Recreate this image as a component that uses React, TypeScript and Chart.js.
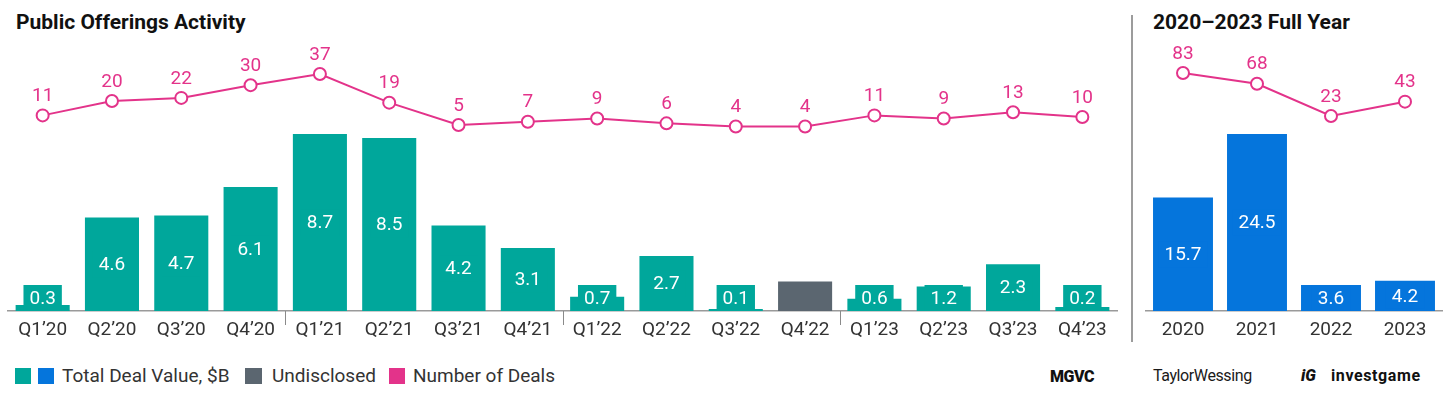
import React, { useEffect, useRef } from "react";
import { Chart, registerables } from "chart.js";
Chart.register(...registerables);

const quarters = ["Q1’20", "Q2’20", "Q3’20", "Q4’20", "Q1’21", "Q2’21", "Q3’21", "Q4’21", "Q1’22", "Q2’22", "Q3’22", "Q4’22", "Q1’23", "Q2’23", "Q3’23", "Q4’23"];
const dealValue = [0.3, 4.6, 4.7, 6.1, 8.7, 8.5, 4.2, 3.1, 0.7, 2.7, 0.1, null, 0.6, 1.2, 2.3, 0.2];
const undisclosed = [null, null, null, null, null, null, null, null, null, null, null, 1.45, null, null, null, null];
const dealCount = [11, 20, 22, 30, 37, 19, 5, 7, 9, 6, 4, 4, 11, 9, 13, 10];

const years = ["2020", "2021", "2022", "2023"];
const yearValue = [15.7, 24.5, 3.6, 4.2];
const yearCount = [83, 68, 23, 43];

const TEAL = "#00A79B";
const BLUE = "#0575DC";
const GRAY = "#5B6670";
const PINK = "#E3338A";
const FONT = "Roboto, 'Noto Sans', sans-serif";

const labelsPlugin = {
  id: "valueLabels",
  afterDatasetsDraw(chart: any) {
    const ctx = chart.ctx;
    ctx.save();
    chart.data.datasets.forEach((ds: any, di: number) => {
      const meta = chart.getDatasetMeta(di);
      if (meta.hidden) return;
      if (ds.type === "bar") {
        if (!ds.showLabels) return;
        ctx.font = `19px ${FONT}`;
        ctx.textAlign = "center";
        ctx.textBaseline = "middle";
        meta.data.forEach((el: any, i: number) => {
          const v = ds.data[i];
          if (v === null || v === undefined) return;
          const base = el.base;
          const mid = (el.y + base) / 2;
          const cy = Math.min(mid, base - 13);
          const txt = v.toFixed(1);
          const tw = ctx.measureText(txt).width;
          ctx.fillStyle = ds.backgroundColor;
          ctx.fillRect(el.x - tw / 2 - 6, cy - 13, tw + 12, 26);
          ctx.fillStyle = "#ffffff";
          ctx.fillText(txt, el.x, cy + 1);
        });
      } else if (ds.type === "line") {
        ctx.font = `19px ${FONT}`;
        ctx.textAlign = "center";
        ctx.textBaseline = "middle";
        ctx.fillStyle = PINK;
        meta.data.forEach((el: any, i: number) => {
          ctx.fillText(String(ds.data[i]), el.x, el.y - 19);
        });
      }
    });
    ctx.restore();
  },
};

const yearTicksPlugin = {
  id: "yearTicks",
  afterDraw(chart: any) {
    const opts = chart.options.plugins.yearTicks;
    if (!opts || !opts.after) return;
    const x = chart.scales.x;
    const ctx = chart.ctx;
    const b = chart.chartArea.bottom;
    ctx.save();
    ctx.strokeStyle = "#8a8a8a";
    ctx.lineWidth = 1;
    opts.after.forEach((i: number) => {
      const px = Math.round((x.getPixelForValue(i) + x.getPixelForValue(i + 1)) / 2) + 0.5;
      ctx.beginPath();
      ctx.moveTo(px, b);
      ctx.lineTo(px, b + 14);
      ctx.stroke();
    });
    ctx.restore();
  },
};

function makeOptions(barMax: number, lineMin: number, lineMax: number, padL: number, padR: number, ticksAfter: number[]) {
  return {
    responsive: false,
    animation: false as const,
    layout: { padding: { top: 40, left: padL, right: padR, bottom: 0 } },
    plugins: {
      legend: { display: false },
      tooltip: { enabled: false },
      yearTicks: { after: ticksAfter },
    },
    scales: {
      x: {
        type: "category" as const,
        offset: true,
        grid: { display: false, drawTicks: false },
        border: { display: true, color: "#9a9a9a", width: 1.5 },
        ticks: { color: "#333333", font: { family: FONT, size: 19 }, padding: 8, maxRotation: 0, autoSkip: false },
        afterFit: (s: any) => {
          s.height = 34;
        },
      },
      y: { display: false, min: 0, max: barMax },
      yLine: { display: false, min: lineMin, max: lineMax, position: "right" as const },
    },
  };
}

function LeftChart() {
  const ref = useRef<HTMLCanvasElement>(null);
  useEffect(() => {
    if (!ref.current) return;
    const chart = new Chart(ref.current, {
      type: "bar",
      data: {
        labels: quarters,
        datasets: [
          {
            type: "line",
            data: dealCount,
            yAxisID: "yLine",
            borderColor: PINK,
            borderWidth: 2,
            pointRadius: 6,
            pointBorderWidth: 2,
            pointBackgroundColor: "#ffffff",
            pointBorderColor: PINK,
          } as any,
          {
            type: "bar",
            data: dealValue,
            yAxisID: "y",
            backgroundColor: TEAL,
            grouped: false,
            categoryPercentage: 1,
            barPercentage: 0.78,
            showLabels: true,
          } as any,
          {
            type: "bar",
            data: undisclosed,
            yAxisID: "y",
            backgroundColor: GRAY,
            grouped: false,
            categoryPercentage: 1,
            barPercentage: 0.78,
            showLabels: false,
          } as any,
        ],
      },
      options: makeOptions(13.32, -112, 58.4, 7, 7, [3, 7, 11]) as any,
      plugins: [labelsPlugin, yearTicksPlugin],
    });
    return () => chart.destroy();
  }, []);
  return <canvas ref={ref} width={1125} height={345} style={{ position: "absolute", left: 0, top: 0 }} />;
}

function RightChart() {
  const ref = useRef<HTMLCanvasElement>(null);
  useEffect(() => {
    if (!ref.current) return;
    const chart = new Chart(ref.current, {
      type: "bar",
      data: {
        labels: years,
        datasets: [
          {
            type: "line",
            data: yearCount,
            yAxisID: "yLine",
            borderColor: PINK,
            borderWidth: 2,
            pointRadius: 6,
            pointBorderWidth: 2,
            pointBackgroundColor: "#ffffff",
            pointBorderColor: PINK,
          } as any,
          {
            type: "bar",
            data: yearValue,
            yAxisID: "y",
            backgroundColor: BLUE,
            grouped: false,
            categoryPercentage: 1,
            barPercentage: 0.81,
            showLabels: true,
          } as any,
        ],
      },
      options: makeOptions(37.5, -249, 129, 7, 14, []) as any,
      plugins: [labelsPlugin],
    });
    return () => chart.destroy();
  }, []);
  return <canvas ref={ref} width={318} height={345} style={{ position: "absolute", left: 1138, top: 0 }} />;
}

const abs = (left: number, top: number, extra: any = {}) => ({ position: "absolute" as const, left, top, ...extra });

export default function App() {
  const legendText = { fontSize: 19, lineHeight: "20px", color: "#333", whiteSpace: "nowrap" as const };
  const titleStyle = { fontSize: 21, lineHeight: "20px", fontWeight: 700, color: "#111", whiteSpace: "nowrap" as const };
  return (
    <div style={{ position: "fixed", left: 0, top: 0, width: 1456, height: 399, background: "#fff", overflow: "hidden", fontFamily: FONT }}>
      <div style={abs(16, 12, titleStyle)}>Public Offerings Activity</div>
      <div style={abs(1153, 12, titleStyle)}>2020–2023 Full Year</div>
      <LeftChart />
      <RightChart />
      <div style={abs(1131, 15, { width: 2, height: 327, background: "#9c9c9c" })} />
      {/* legend */}
      <div style={abs(15, 368, { width: 16, height: 16, background: TEAL })} />
      <div style={abs(38, 368, { width: 16, height: 16, background: BLUE })} />
      <div style={abs(62, 366, legendText)}>Total Deal Value, $B</div>
      <div style={abs(245, 368, { width: 17, height: 16, background: GRAY })} />
      <div style={abs(272, 366, legendText)}>Undisclosed</div>
      <div style={abs(389, 368, { width: 16, height: 16, background: PINK })} />
      <div style={abs(413, 366, legendText)}>Number of Deals</div>
      {/* logos */}
      <div style={abs(1050, 368, { fontSize: 16, lineHeight: "18px", fontWeight: 900, color: "#111", letterSpacing: -0.5, whiteSpace: "nowrap" })}>MGVC</div>
      <div style={abs(1153, 367, { fontSize: 16, lineHeight: "18px", color: "#1a1a1a", letterSpacing: -0.4, whiteSpace: "nowrap" })}>TaylorWessing</div>
      <div style={abs(1301, 367, { fontSize: 16, lineHeight: "18px", fontWeight: 900, fontStyle: "italic", color: "#111", whiteSpace: "nowrap" })}>iG</div>
      <div style={abs(1331, 367, { fontSize: 16, lineHeight: "18px", fontWeight: 700, color: "#111", letterSpacing: 0.6, whiteSpace: "nowrap" })}>investgame</div>
    </div>
  );
}
